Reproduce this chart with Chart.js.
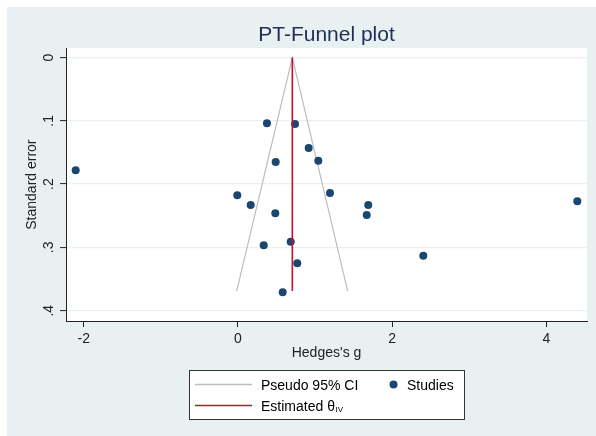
<!DOCTYPE html>
<html>
<head>
<meta charset="utf-8">
<script src="https://cdn.jsdelivr.net/npm/chart.js@4.4.1/dist/chart.umd.min.js"></script>
<style>
  html, body { margin: 0; padding: 0; background: #fff; }
  #wrap { width: 596px; height: 436px; }
</style>
</head>
<body>
<div id="wrap"><canvas id="funnel" width="596" height="436"></canvas></div>
<script>
// studies: effect size (Hedges's g) and its standard error
const studyG  = [0.377, 0.741, 0.918, 1.043, 0.490, 1.195, -0.008, 0.166, 1.691,
                 1.671, 0.485, 0.335, 0.685, 0.770, 0.581, -2.104, 4.402, 2.405];
const studySE = [0.104, 0.105, 0.143, 0.163, 0.165, 0.214, 0.2175, 0.233, 0.233,
                 0.249, 0.246, 0.2965, 0.291, 0.325, 0.371, 0.178, 0.227, 0.313];

// estimated theta (vertical line) and the pseudo 95% CI funnel
const thetaG  = [0.706, 0.706];
const thetaSE = [0, 0.369];
const ciG  = [-0.016, 0.706, 1.424];
const ciSE = [0.369, 0, 0.369];

const xTicks = [-2, 0, 2, 4];
const yTicks = [0, 0.1, 0.2, 0.3, 0.4];

const BG = '#e8f0f2';
const INK = '#222';
const toPts = (xs, ys) => xs.map((x, i) => ({ x: x, y: ys[i] }));

Chart.defaults.font.family = "'Liberation Sans', Arial, sans-serif";
Chart.defaults.font.size = 14;
Chart.defaults.color = INK;

// light panel behind everything, white plot region
const panelBg = {
  id: 'panelBg',
  beforeDraw(chart) {
    const ctx = chart.ctx, a = chart.chartArea;
    ctx.save();
    ctx.fillStyle = BG;
    ctx.fillRect(7, 7, chart.width - 7, chart.height - 7);
    ctx.fillStyle = '#fff';
    ctx.fillRect(a.left, a.top, a.right - a.left, a.bottom - a.top);
    ctx.restore();
  }
};

// stata style boxed legend, two columns
const boxLegend = {
  id: 'boxLegend',
  afterDraw(chart) {
    const ctx = chart.ctx;
    const ds = chart.data.datasets;
    const byLabel = l => ds.find(d => d.label === l);
    ctx.save();
    ctx.fillStyle = '#fff';
    ctx.fillRect(189.5, 370.5, 275, 49);
    ctx.strokeStyle = '#333';
    ctx.lineWidth = 1;
    ctx.strokeRect(189.5, 370.5, 275, 49);

    const items = [
      { d: byLabel('Pseudo 95% CI'), x: 195, y: 384.5 },
      { d: byLabel('Studies'), x: 388, y: 384.5 },
      { d: byLabel('Estimated θ'), x: 195, y: 405.5 }
    ];
    ctx.textBaseline = 'alphabetic';
    items.forEach(it => {
      let tx;
      if (it.d.showLine) {
        ctx.strokeStyle = it.d.borderColor;
        ctx.lineWidth = 1.5;
        ctx.beginPath();
        ctx.moveTo(it.x, it.y);
        ctx.lineTo(it.x + 57, it.y);
        ctx.stroke();
        tx = it.x + 66;
      } else {
        ctx.fillStyle = it.d.backgroundColor;
        ctx.beginPath();
        ctx.arc(it.x + 5.5, it.y, 4, 0, Math.PI * 2);
        ctx.fill();
        tx = it.x + 19;
      }
      ctx.fillStyle = '#000';
      ctx.font = "14px 'Liberation Sans', Arial, sans-serif";
      ctx.fillText(it.d.label, tx, it.y + 5);
      if (it.d.sub) {
        const w = ctx.measureText(it.d.label).width;
        ctx.font = "8px 'Liberation Sans', Arial, sans-serif";
        ctx.fillText(it.d.sub, tx + w + 0.5, it.y + 6);
      }
    });
    ctx.restore();
  }
};

new Chart(document.getElementById('funnel'), {
  type: 'scatter',
  data: {
    datasets: [
      {
        label: 'Estimated θ', sub: 'IV',
        data: toPts(thetaG, thetaSE),
        showLine: true, borderColor: '#c8102e', borderWidth: 1.6,
        pointRadius: 0, order: 0
      },
      {
        label: 'Studies',
        data: toPts(studyG, studySE),
        backgroundColor: '#1a476f', borderWidth: 0,
        pointRadius: 4, order: 1
      },
      {
        label: 'Pseudo 95% CI',
        data: toPts(ciG, ciSE),
        showLine: true, borderColor: '#bdbdbd', borderWidth: 1.2,
        pointRadius: 0, order: 2
      }
    ]
  },
  options: {
    responsive: false,
    animation: false,
    events: [],
    layout: { padding: { left: 7, right: 9, top: 7, bottom: 68 } },
    plugins: {
      legend: { display: false },
      tooltip: { enabled: false },
      title: {
        display: true, text: 'PT-Funnel plot', fullSize: false,
        color: '#1f2e57', font: { size: 21, weight: 'normal' },
        padding: { top: 15.5, bottom: 0.5 }
      }
    },
    scales: {
      x: {
        type: 'linear', min: -2.2296, max: 4.528,
        afterBuildTicks: s => { s.ticks = xTicks.map(v => ({ value: v })); },
        afterFit: s => { s.height = 47; },
        grid: { drawOnChartArea: false, tickLength: 6, tickColor: INK, tickWidth: 1 },
        border: { display: true, color: INK, width: 1 },
        ticks: { padding: 4, color: INK, maxRotation: 0 },
        title: { display: true, text: "Hedges's g", color: INK, padding: { top: 0, bottom: 6 } }
      },
      y: {
        type: 'linear', reverse: true, min: -0.01468, max: 0.41626,
        afterBuildTicks: s => { s.ticks = yTicks.map(v => ({ value: v })); },
        afterFit: s => { s.width = 59; },
        grid: { color: BG, lineWidth: 1.2, tickLength: 6, tickColor: INK, tickWidth: 1 },
        border: { display: true, color: INK, width: 1 },
        ticks: {
          padding: 5, color: INK, minRotation: 90, maxRotation: 90, crossAlign: 'center',
          callback: v => v === 0 ? '0' : String(v).replace(/^0/, '')
        },
        title: { display: true, text: 'Standard error', color: INK, padding: { top: 17, bottom: 0 } }
      }
    }
  },
  plugins: [panelBg, boxLegend]
});
</script>
</body>
</html>
